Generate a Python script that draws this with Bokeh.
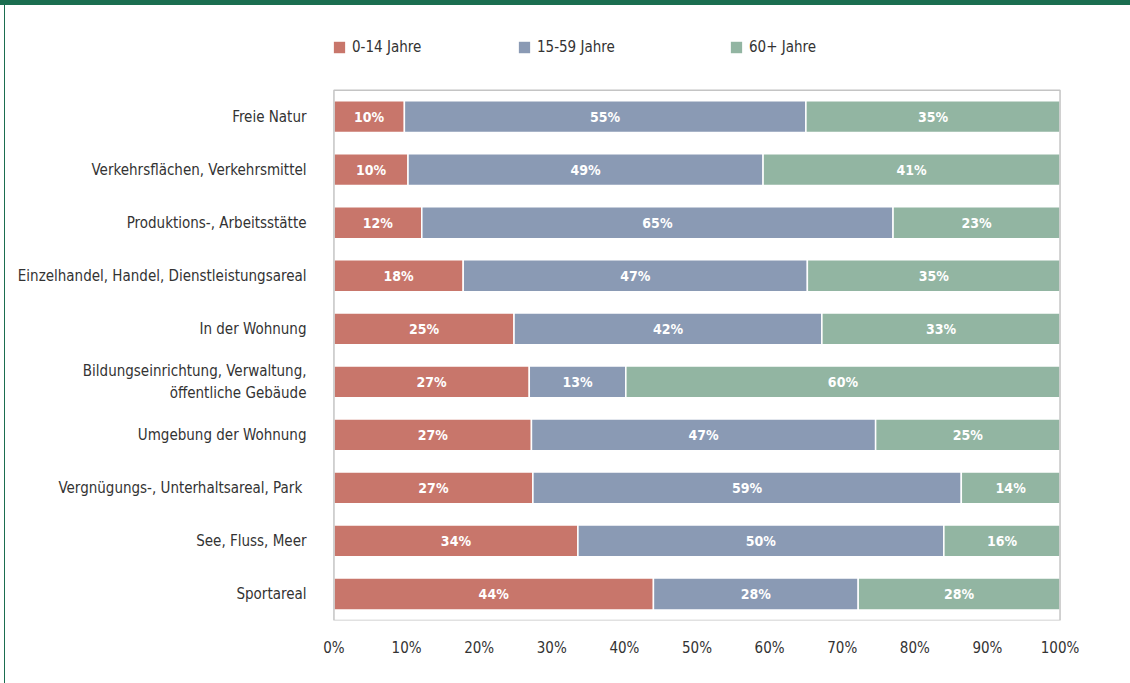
from bokeh.plotting import figure
from bokeh.models import (ColumnDataSource, Legend, LegendItem, FixedTicker, Range1d)
from bokeh.core.properties import value
from bokeh.embed import file_html
from bokeh.resources import INLINE

categories = [
    "Freie Natur",
    "Verkehrsflächen, Verkehrsmittel",
    "Produktions-, Arbeitsstätte",
    "Einzelhandel, Handel, Dienstleistungsareal",
    "In der Wohnung",
    "Bildungseinrichtung, Verwaltung,\nöffentliche Gebäude",
    "Umgebung der Wohnung",
    "Vergnügungs-,  Unterhaltsareal, Park",
    "See, Fluss, Meer",
    "Sportareal",
]
age_0_14 = [9.7, 10.2, 12.1, 17.8, 24.8, 26.9, 27.2, 27.4, 33.6, 44.0]
age_15_59 = [55.3, 48.9, 64.9, 47.4, 42.4, 13.3, 47.4, 59.0, 50.4, 28.2]
age_60_plus = [35.0, 40.9, 23.0, 34.8, 32.8, 59.8, 25.4, 13.6, 16.0, 27.8]
series_names = ["0-14 Jahre", "15-59 Jahre", "60+ Jahre"]
tick_values = [0, 10, 20, 30, 40, 50, 60, 70, 80, 90, 100]
tick_labels = [f"{t}%" for t in tick_values]

colors = ["#c8766b", "#8a9ab4", "#92b5a2"]
FONT = "'Liberation Sans Narrow', 'DejaVu Sans Condensed', sans-serif"
TXT = "#333333"
GREEN = "#1b6e50"
BOX = "#c4c4c4"

n = len(categories)
pos = list(range(n))
keys = ["a", "b", "c"]
data = dict(pos=pos, a=age_0_14, b=age_15_59, c=age_60_plus)
mid_a, mid_b, mid_c = [], [], []
for x1, x2, x3 in zip(age_0_14, age_15_59, age_60_plus):
    mid_a.append(x1 / 2)
    mid_b.append(x1 + x2 / 2)
    mid_c.append(x1 + x2 + x3 / 2)
data["ma"], data["mb"], data["mc"] = mid_a, mid_b, mid_c
data["ta"] = [f"{round(v):d}%" for v in age_0_14]
data["tb"] = [f"{round(v):d}%" for v in age_15_59]
data["tc"] = [f"{round(v):d}%" for v in age_60_plus]
src = ColumnDataSource(data)

W, H = 1130, 683
# extra room above the first row holds the legend
p = figure(width=W, height=H,
           y_range=Range1d(n - 0.5, -1.7),
           x_range=Range1d(tick_values[0] - 0.2, tick_values[-1] + 0.2),
           output_backend="svg", toolbar_location=None,
           min_border_left=332, min_border_right=69,
           min_border_top=26, min_border_bottom=63)
p.border_fill_color = None
p.outline_line_color = None
p.styles = {
    "box-shadow": f"inset 0 5px 0 {GREEN}, inset 4px 0 0 #ffffff, inset 5px 0 0 {GREEN}",
}

renderers = p.hbar_stack(keys, y="pos", height=0.6, color=colors, source=src,
                         line_color="white", line_width=1.5)

# plot box around the bars
p.quad(left=[tick_values[0]], right=[tick_values[-1]], top=[-0.5], bottom=[n - 0.5],
       fill_color=None, line_color=BOX, line_width=1.5)

for m, t in (("ma", "ta"), ("mb", "tb"), ("mc", "tc")):
    p.text(x=m, y="pos", text=t, source=src, text_align="center", text_baseline="middle",
           text_color="white", text_font_style="bold", text_font_size="14px",
           text_font=value(FONT))

p.xgrid.visible = False
p.ygrid.visible = False

p.xaxis.ticker = FixedTicker(ticks=tick_values)
p.xaxis.major_label_overrides = {t: l for t, l in zip(tick_values, tick_labels)}
p.yaxis.ticker = FixedTicker(ticks=pos)
p.yaxis.major_label_overrides = {i: c for i, c in zip(pos, categories)}
for ax in (p.xaxis[0], p.yaxis[0]):
    ax.axis_line_color = None
    ax.major_tick_line_color = None
    ax.minor_tick_line_color = None
    ax.major_label_text_font = FONT
    ax.major_label_text_font_size = "15px"
    ax.major_label_text_color = TXT
p.xaxis.major_label_standoff = 12
p.yaxis.major_label_standoff = 20

legend_x = [-1, 184, 396]
for name, r, lx in zip(series_names, renderers, legend_x):
    leg = Legend(items=[LegendItem(label=name, renderers=[r])], location=(lx, 564),
                 orientation="horizontal", border_line_color=None,
                 background_fill_alpha=0, padding=0, margin=0,
                 glyph_width=16, glyph_height=16, label_standoff=5,
                 label_text_font=FONT, label_text_font_size="15px",
                 label_text_color=TXT)
    p.add_layout(leg)

open("out.html", "w").write(file_html(p, INLINE))
